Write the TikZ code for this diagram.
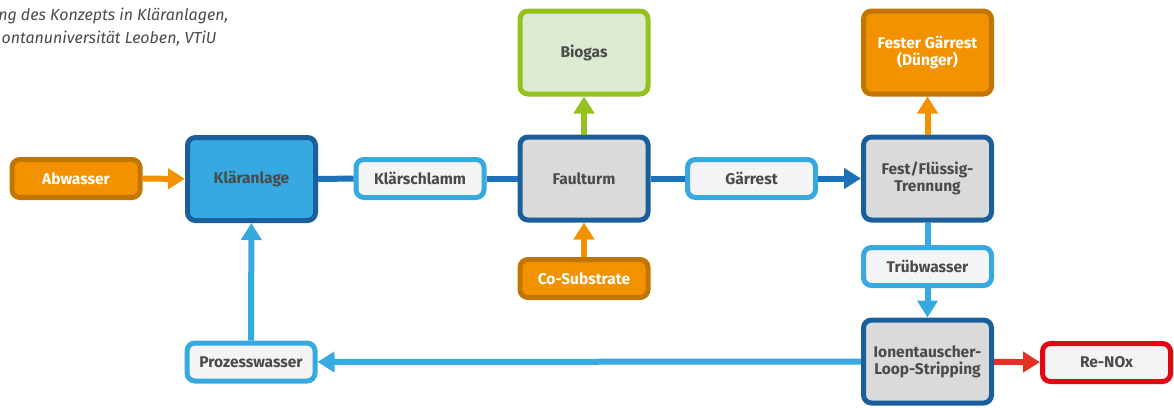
\documentclass[tikz,border=0pt]{standalone}
\usepackage{fontspec}
\setmainfont{Fira Sans}
\usetikzlibrary{arrows.meta}
\definecolor{orangefill}{HTML}{F39200}
\definecolor{orangeline}{HTML}{C27500}
\definecolor{darkblue}{HTML}{1B5E9C}
\definecolor{midblue}{HTML}{1D71B8}
\definecolor{lightblue}{HTML}{36A9E1}
\definecolor{greyfill}{HTML}{D9DADA}
\definecolor{paper}{HTML}{F4F4F4}
\definecolor{greenline}{HTML}{95C11F}
\definecolor{greenfill}{HTML}{DCEAD2}
\definecolor{redline}{HTML}{E30613}
\definecolor{redarrow}{HTML}{E53027}
\definecolor{textgrey}{HTML}{4A4A4A}
\begin{document}
\begin{tikzpicture}
            [x=1pt, y=-1pt,
            box/.style={rounded corners=8pt, line width=5pt, align=center,
                font=\fontsize{15.5}{17}\selectfont\bfseries, text=textgrey},
            small/.style={box, minimum width=128pt, minimum height=38pt},
            big/.style={box, minimum width=128pt, minimum height=83pt},
            input/.style={small, draw=orangeline, fill=orangefill, text=white},
            product/.style={big, draw=orangeline, fill=orangefill, text=white},
            stream/.style={small, draw=lightblue, fill=paper},
            plant/.style={big, draw=darkblue, fill=greyfill},
            caption/.style={anchor=base east, font=\fontsize{16}{18}\selectfont\itshape, text=textgrey},
            flow/.style={line width=6pt, -{Triangle[width=20pt,length=17pt]}},
            link/.style={line width=6pt}]

            \useasboundingbox (0,0) rectangle (1174,407);

            \node[caption] (cap1) at (232,20) {ng des Konzepts in Kläranlagen,};
            \node[caption] (cap2) at (220,43) {ontanuniversität Leoben, VTiU};

            \node[input] (abw) at (76,178.5) {Abwasser};
            \node[big, draw=darkblue, fill=lightblue] (klar) at (251.5,179) {Kläranlage};
            \node[stream] (schlamm) at (420,178.5) {Klärschlamm};
            \node[plant] (faul) at (584,178.5) {Faulturm};
            \node[stream] (gaer) at (751.5,178.5) {Gärrest};
            \node[plant] (trenn) at (927.5,178.5) {Fest/Flüssig-\\Trennung};
            \node[big, draw=greenline, fill=greenfill] (bio) at (584,52.5) {Biogas};
            \node[product] (dung) at (927.5,52.5) {Fester Gärrest\\(Dünger)};
            \node[input] (cosub) at (584,278.5) {Co-Substrate};
            \node[stream] (trub) at (927.5,266.5) {Trübwasser};
            \node[plant] (ion) at (927.5,361.5) {Ionentauscher-\\Loop-Stripping};
            \node[small, draw=redline, fill=paper] (renox) at (1106.5,362.5) {Re-NOx};
            \node[stream] (proz) at (251,362) {Prozesswasser};

            \draw[flow, orangefill] (abw) -- (klar);
            \draw[link, midblue] (klar) -- (schlamm);
            \draw[link, midblue] (schlamm) -- (faul);
            \draw[link, midblue] (faul) -- (gaer);
            \draw[flow, midblue] (gaer) -- (trenn);
            \draw[flow, greenline] (faul) -- (bio);
            \draw[flow, orangefill] (cosub) -- (faul);
            \draw[flow, orangefill] (trenn) -- (dung);
            \draw[link, lightblue] (trenn) -- (trub);
            \draw[flow, lightblue] (trub) -- (ion);
            \draw[flow, redarrow] (ion) -- (renox);
            \draw[flow, lightblue] (ion) -- (proz);
            \draw[flow, lightblue] (proz) -- (klar);

        \end{tikzpicture}
\end{document}
